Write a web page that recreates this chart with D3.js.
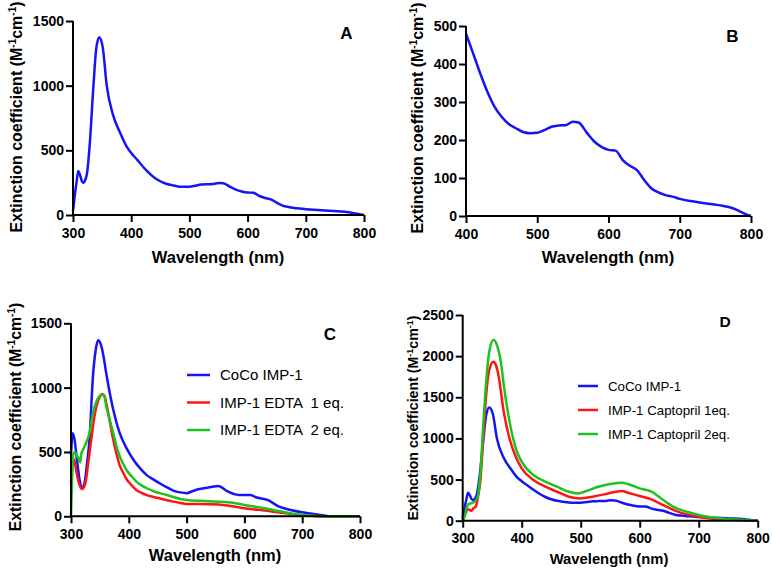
<!DOCTYPE html>
<html><head><meta charset="utf-8">
<script src="https://cdn.jsdelivr.net/npm/d3@7"></script>
<style>
html,body{margin:0;padding:0;background:#fff;}
svg{display:block;font-family:"Liberation Sans",Arial,sans-serif;}
</style></head>
<body>
<svg id="chart" width="772" height="573"></svg>
<script>
// ---------- DATA ----------
// CoCo IMP-1 (panels A, B, D)
const cocoWl  = [300,303,306,309,312,315,318,321,324,329,335,340,345,351,358,369,381,392,400,410,420,430,440,450,460,470,480,490,500,510,520,530,540,550,558,570,580,590,600,610,620,630,640,650,660,670,680,690,700,720,740,760,770,780,790,800];
const cocoVal = [30,150,250,340,310,265,248,270,320,560,990,1290,1375,1300,1000,770,635,530,480,428,375,327,288,261,242,231,221,218,219,226,235,238,239,248,246,218,196,182,174,172,147,132,121,95,73,62,55,51,45,38,32,27,23,16,7,0];

// Panel C series
const cBlueWl  = [300,303,306,310,315,319,323,328,332,338,343,347,352,356,361,367,373,384,396,408,420,431,443,454,466,477,489,500,510,520,530,540,555,570,590,610,620,640,660,680,700,720,740,750,800];
const cBlueVal = [480,645,600,450,280,215,250,420,600,1090,1300,1368,1330,1250,1110,960,830,650,530,440,370,320,285,255,225,200,186,180,195,210,218,225,236,195,166,166,148,127,75,49,31,18,5,0,0];
const cRedWl   = [300,302,304,306,310,315,319,323,326,330,335,340,344,350,354,358,361,367,373,379,384,390,396,405,413,422,431,443,454,466,477,489,500,523,555,580,600,625,650,675,700,720,740,800];
const cRedVal  = [260,400,445,430,330,240,212,230,285,420,596,760,855,930,950,935,880,740,596,480,400,340,290,240,205,182,165,150,138,125,114,104,96,96,91,78,62,50,36,22,10,4,0,0];
const cGreenWl = [300,302,304,307,310,313,316,318,320,326,332,338,343,347,351,355,358,361,367,373,379,384,390,396,405,413,422,431,443,454,466,477,489,500,523,555,580,600,625,650,675,700,720,740,800];
const cGreenVal= [0,300,480,500,470,450,420,490,510,570,648,803,880,920,940,945,930,855,750,648,540,470,410,360,310,270,240,218,195,180,165,150,135,127,120,114,105,88,70,49,28,10,3,0,0];

// Panel D series
const dRedWl   = [300,305,308,312,315,318,322,326,330,335,340,345,352,355,360,370,380,390,400,420,440,460,480,500,520,540,560,570,580,600,620,640,660,680,700,720,750,800];
const dRedVal  = [0,89,138,130,122,150,170,292,494,1021,1548,1832,1933,1912,1791,1305,981,778,636,494,413,352,292,271,292,320,352,361,340,300,259,190,122,77,49,28,16,0];
const dGreenWl = [300,305,308,315,320,325,330,335,340,345,352,358,365,370,380,390,400,420,440,460,480,495,510,530,550,570,580,600,620,640,660,680,700,720,750,800];
const dGreenVal= [0,89,190,215,230,280,575,1183,1710,2054,2196,2135,1912,1629,1183,879,717,555,474,413,352,332,361,413,446,462,446,393,352,251,158,109,69,41,20,0];

const ticksX300 = [300,400,500,600,700,800];
const ticksX400 = [400,500,600,700,800];
const ticksY1500 = [0,500,1000,1500];
const ticksY500 = [0,100,200,300,400,500];
const ticksY2500 = [0,500,1000,1500,2000,2500];

const legendC = ["CoCo IMP-1","IMP-1 EDTA  1 eq.","IMP-1 EDTA  2 eq."];
const legendD = ["CoCo IMP-1","IMP-1 Captopril 1eq.","IMP-1 Captopril 2eq."];

const BLUE = "#1414f5", RED = "#ff1414", GREEN = "#1ec21e";

function zip(w, v){ return w.map((x,i)=>({x:x, y:v[i]})); }
function cut(w, v, lo){ return zip(w,v).filter(d=>d.x>=lo); }

const svg = d3.select("#chart");

function panel(cfg){
  const g = svg.append("g");
  const x = d3.scaleLinear().domain(cfg.xd).range([cfg.x0, cfg.x1]);
  const y = d3.scaleLinear().domain(cfg.yd).range([cfg.yb, cfg.yt]);

  const line = d3.line().x(d=>x(d.x)).y(d=>y(d.y)).curve(d3.curveMonotoneX);
  cfg.series.forEach(s=>{
    g.append("path").datum(s.data).attr("d", line)
      .attr("fill","none").attr("stroke", s.color).attr("stroke-width", 2.5)
      .attr("stroke-linejoin","round");
  });

  // axes
  const xa = d3.axisBottom(x).tickValues(cfg.xticks).tickSize(7).tickPadding(3).tickFormat(d3.format("d"));
  const ya = d3.axisLeft(y).tickValues(cfg.yticks).tickSize(7).tickPadding(2).tickFormat(d3.format("d"));
  const gx = g.append("g").attr("transform", `translate(0,${cfg.yb})`).call(xa);
  const gy = g.append("g").attr("transform", `translate(${cfg.x0},0)`).call(ya);
  [gx, gy].forEach(a=>{
    a.select(".domain").attr("stroke","#000").attr("stroke-width",2);
    a.selectAll(".tick line").attr("stroke","#000").attr("stroke-width",2);
    a.selectAll(".tick text").attr("fill","#000").attr("font-size", 14).attr("font-weight","bold")
      .attr("font-family",'"Liberation Sans",Arial,sans-serif');
  });
  gx.select(".domain").attr("d", `M${cfg.x0},0H${cfg.x1}`);
  gy.select(".domain").attr("d", `M0,${cfg.yb}V${cfg.yt}`);
  gx.selectAll(".tick text").attr("dy", null).attr("y", 22.5);

  // x title
  g.append("text").attr("x", cfg.xtx).attr("y", cfg.xty).attr("text-anchor","middle")
    .attr("font-size", cfg.xfs).attr("font-weight","bold").text("Wavelength (nm)");

  // y title
  const fs = cfg.yfs;
  const yt = g.append("text").attr("transform", `translate(${cfg.ytx},${cfg.yty}) rotate(-90)`)
    .attr("text-anchor","middle").attr("font-size", fs).attr("font-weight","bold");
  const sup = Math.round(fs*0.62);
  yt.append("tspan").text("Extinction coefficient (M");
  yt.append("tspan").attr("font-size", sup).attr("dy", -fs*0.38).text("-1");
  yt.append("tspan").attr("dy", fs*0.38).text("cm");
  yt.append("tspan").attr("font-size", sup).attr("dy", -fs*0.38).text("-1");
  yt.append("tspan").attr("dy", fs*0.38).text(")");

  // panel letter
  g.append("text").attr("x", cfg.lx).attr("y", cfg.ly).attr("text-anchor","middle")
    .attr("font-size", cfg.lfs).attr("font-weight","bold").text(cfg.label);

  // legend
  if (cfg.legend){
    const L = cfg.legend;
    L.names.forEach((n,i)=>{
      const yy = L.y0 + i*L.dy;
      g.append("line").attr("x1", L.x0).attr("x2", L.x1).attr("y1", yy).attr("y2", yy)
        .attr("stroke", cfg.series[i].color).attr("stroke-width", 2.5);
      g.append("text").attr("x", L.tx).attr("y", yy + L.fs*0.36).attr("font-size", L.fs)
        .attr("xml:space","preserve").style("white-space","pre").text(n);
    });
  }
}

panel({x0:73, x1:364, yt:21, yb:215, xd:[300,800], yd:[0,1500],
  xticks:ticksX300, yticks:ticksY1500,
  series:[{data:zip(cocoWl,cocoVal), color:BLUE}],
  xtx:218, xty:263, ytx:22, yty:117, xfs:16.5, yfs:16, label:"A", lx:346.5, ly:39, lfs:17});

panel({x0:466, x1:751, yt:26, yb:216, xd:[400,800], yd:[0,500],
  xticks:ticksX400, yticks:ticksY500,
  series:[{data:cut(cocoWl,cocoVal,400), color:BLUE}],
  xtx:608, xty:263, ytx:423, yty:118, xfs:16.5, yfs:16, label:"B", lx:732.5, ly:42, lfs:17});

panel({x0:71, x1:360, yt:323.3, yb:516.3, xd:[300,800], yd:[0,1500],
  xticks:ticksX300, yticks:ticksY1500,
  series:[{data:zip(cBlueWl,cBlueVal), color:BLUE},{data:zip(cRedWl,cRedVal), color:RED},{data:zip(cGreenWl,cGreenVal), color:GREEN}],
  xtx:215, xty:561, ytx:21, yty:417, xfs:16.5, yfs:15.8, label:"C", lx:330, ly:340, lfs:17,
  legend:{names:legendC, x0:187, x1:210, tx:220, y0:375, dy:27.5, fs:15}});

panel({x0:462.7, x1:757.7, yt:315, yb:520.7, xd:[300,800], yd:[0,2500],
  xticks:ticksX300, yticks:ticksY2500,
  series:[{data:zip(cocoWl,cocoVal), color:BLUE},{data:zip(dRedWl,dRedVal), color:RED},{data:zip(dGreenWl,dGreenVal), color:GREEN}],
  xtx:609, xty:564, ytx:418, yty:418, xfs:14.8, yfs:14.2, label:"D", lx:725, ly:327, lfs:15.5,
  legend:{names:legendD, x0:578, x1:598, tx:608, y0:386, dy:24, fs:13.3}});
</script>
</body></html>
